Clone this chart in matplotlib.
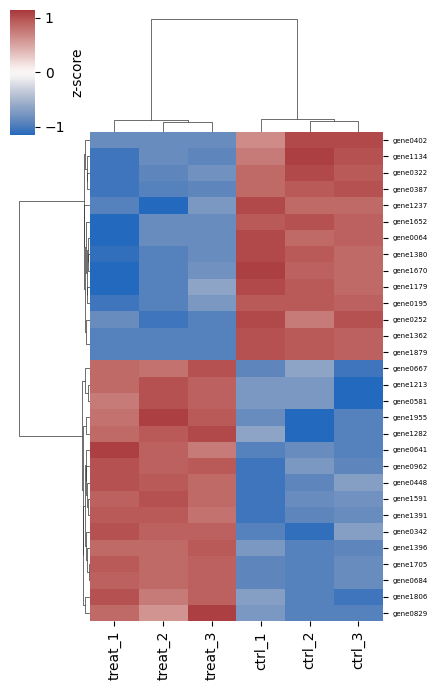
import matplotlib
matplotlib.use("Agg")
import numpy as np, pandas as pd, seaborn as sns
import matplotlib.pyplot as plt

genes = ["gene0402","gene0322","gene0387","gene1134","gene1652","gene0064","gene1179","gene1380","gene1670","gene0252",
         "gene1362","gene1879","gene0195","gene1237","gene1955","gene1282","gene0641","gene0342","gene0962","gene1591",
         "gene1391","gene0448","gene1213","gene0581","gene1806","gene0829","gene0667","gene1705","gene0684","gene1396"]
samples = ["treat_1","treat_2","treat_3","ctrl_1","ctrl_2","ctrl_3"]
values = [
[-0.85,-0.85,-0.85,0.65,1.05,1.05],
[-1.05,-0.9,-0.8,0.85,1.05,0.95],
[-1.05,-0.95,-0.9,0.85,0.95,1.0],
[-1.05,-0.85,-0.9,0.75,1.1,1.0],
[-1.25,-0.85,-0.85,0.95,1.0,0.9],
[-1.15,-0.85,-0.85,1.05,0.85,0.9],
[-1.15,-0.95,-0.65,1.05,0.95,0.85],
[-1.1,-0.95,-0.85,1.05,0.95,0.85],
[-1.15,-0.95,-0.8,1.1,0.9,0.85],
[-0.85,-1.05,-0.95,1.05,0.75,1.0],
[-0.95,-0.95,-0.95,1.0,0.95,0.9],
[-0.95,-0.95,-0.95,1.0,0.95,0.9],
[-1.05,-0.95,-0.75,0.95,0.95,0.9],
[-0.95,-1.2,-0.75,1.05,0.85,0.85],
[0.8,1.1,0.95,-0.85,-1.15,-0.95],
[0.85,0.95,1.05,-0.65,-1.15,-0.95],
[1.1,0.9,0.75,-0.95,-0.85,-0.95],
[1.0,0.9,0.9,-0.95,-1.1,-0.7],
[1.0,0.9,0.95,-1.05,-0.75,-0.9],
[0.9,1.0,0.85,-1.05,-0.85,-0.8],
[0.95,0.95,0.8,-1.05,-0.9,-0.85],
[1.0,0.95,0.85,-1.05,-0.9,-0.7],
[0.85,1.0,0.9,-0.75,-0.75,-1.2],
[0.75,1.0,0.9,-0.75,-0.75,-1.15],
[1.0,0.75,0.9,-0.7,-0.95,-1.05],
[0.85,0.6,1.1,-0.75,-0.95,-0.95],
[0.85,0.8,1.0,-0.9,-0.65,-1.05],
[0.95,0.85,0.9,-0.9,-0.95,-0.85],
[0.9,0.85,0.9,-0.9,-0.95,-0.85],
[0.85,0.85,0.95,-0.75,-0.95,-0.9],
]
df = pd.DataFrame(values, index=genes, columns=samples)

g = sns.clustermap(df, cmap="vlag", vmin=-1.15, vmax=1.15, center=0,
                   figsize=(4.43, 6.91), cbar_kws={"label": "z-score", "ticks": [-1, 0, 1]},
                   yticklabels=True, xticklabels=True)
g.ax_heatmap.tick_params(axis="y", labelsize=5)
g.ax_heatmap.set_xlabel(""); g.ax_heatmap.set_ylabel("")
g.ax_heatmap.set_position([0.203, 0.101, 0.661, 0.708])
g.ax_row_dendrogram.set_position([0.034, 0.101, 0.169, 0.708])
g.ax_col_dendrogram.set_position([0.203, 0.809, 0.661, 0.172])
g.ax_cbar.set_position([0.023, 0.805, 0.056, 0.181])
g.fig.savefig("out.png", dpi=100)
